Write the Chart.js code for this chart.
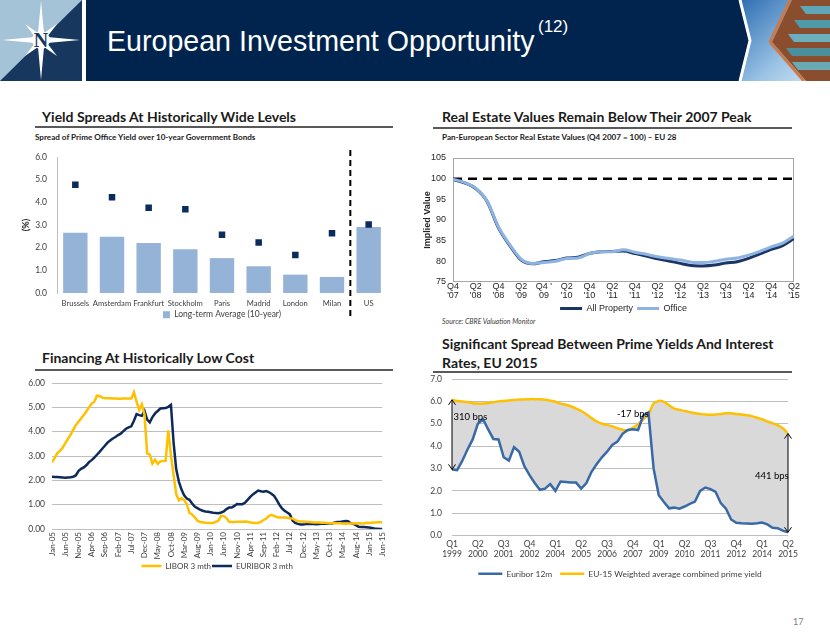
<!DOCTYPE html>
<html><head><meta charset="utf-8">
<script src="https://cdn.jsdelivr.net/npm/chart.js@4.4.0/dist/chart.umd.min.js"></script>
<style>
html,body{margin:0;padding:0;background:#fff;}
body{width:830px;height:632px;position:relative;overflow:hidden;font-family:Lato,'Liberation Sans',sans-serif;}
.abs{position:absolute;}
.h{position:absolute;font-family:Lato,sans-serif;font-weight:bold;font-size:14px;line-height:17px;color:#1a1a1a;white-space:nowrap;}
.rule{position:absolute;height:1.5px;background:#595959;}
.sub{position:absolute;font-family:Lato,sans-serif;font-weight:bold;font-size:8.1px;line-height:10px;color:#1a1a1a;white-space:nowrap;}
.box{position:absolute;}
</style></head><body>

<svg class="abs" style="left:0;top:0" width="830" height="82">
  <defs>
    <linearGradient id="sky" x1="0" y1="0" x2="1" y2="1">
      <stop offset="0" stop-color="#2F6FB3"/>
      <stop offset="0.6" stop-color="#9CC4E6"/>
      <stop offset="1" stop-color="#D9E8F4"/>
    </linearGradient>
    <clipPath id="imgclip"><polygon points="741,0 830,0 830,81 741,81 751,40.5"/></clipPath>
  </defs>
  <rect x="0" y="0" width="82" height="81" fill="#A5C3D6"/>
  <polygon points="82,0 82,81 0,81" fill="#17375E"/>
  <polygon points="41,1 44,33 57,24 47,37 80,40 47,43 57,56 44,47 41,80 38,47 25,56 35,43 2,40 35,37 25,24 38,33" fill="#ffffff"/>
  <circle cx="41" cy="40" r="9" fill="#ffffff"/>
  <text x="41" y="47" text-anchor="middle" font-family="Liberation Serif" font-weight="bold" font-size="20" fill="#17375E">N</text>
  <polygon points="86,0 739,0 749,40.5 739,81 86,81" fill="#00244E"/>
  <g clip-path="url(#imgclip)">
    <rect x="741" y="0" width="89" height="81" fill="url(#sky)"/>
    <polygon points="792,0 830,0 830,81 806,81 772,42" fill="#8A4E2E"/>
    <polygon points="800,6 830,6 830,14 806,14" fill="#5FA7B8"/>
    <polygon points="794,20 830,20 830,28 800,28" fill="#4E9AA8"/>
    <polygon points="788,34 830,34 830,42 794,42" fill="#6DB0BD"/>
    <polygon points="786,48 830,48 830,56 792,56" fill="#4B8F9C"/>
    <polygon points="792,62 830,62 830,70 798,70" fill="#6AAAB4"/>
    <line x1="790" y1="0" x2="770" y2="42" stroke="#C97A4A" stroke-width="3"/>
    <line x1="770" y1="42" x2="804" y2="81" stroke="#C97A4A" stroke-width="3"/>
  </g>
  <polyline points="740,0 750,40.5 740,81" fill="none" stroke="#ffffff" stroke-width="3"/>
</svg>
<div class="abs" style="left:107px;top:27px;font-family:'Liberation Sans',sans-serif;font-size:28.6px;line-height:28px;color:#fff;white-space:nowrap;">European Investment Opportunity</div>
<div class="abs" style="left:538px;top:18px;font-family:'Liberation Sans',sans-serif;font-size:17px;line-height:17px;color:#fff;">(12)</div>

<div class="h" style="left:42px;top:108px;">Yield Spreads At Historically Wide Levels</div>
<div class="rule" style="left:35px;top:126px;width:358px;"></div>
<div class="sub" style="left:35px;top:132px;">Spread of Prime Office Yield over 10-year Government Bonds</div>

<div class="h" style="left:442px;top:108px;">Real Estate Values Remain Below Their 2007 Peak</div>
<div class="rule" style="left:433px;top:127px;width:359px;"></div>
<div class="sub" style="left:442px;top:132px;">Pan-European Sector Real Estate Values (Q4 2007 = 100) – EU 28</div>

<div class="h" style="left:42px;top:349px;">Financing At Historically Low Cost</div>
<div class="rule" style="left:35px;top:369px;width:358px;"></div>

<div class="h" style="left:442px;top:334px;line-height:19px;">Significant Spread Between Prime Yields And Interest<br>Rates, EU 2015</div>
<div class="rule" style="left:433px;top:371px;width:359px;"></div>

<div class="abs" style="left:442px;top:317px;font-family:Lato,sans-serif;font-style:italic;font-size:7px;color:#404040;">Source: CBRE Valuation Monitor</div>
<div class="abs" style="left:793px;top:616px;font-family:Lato,sans-serif;font-size:9px;color:#7f7f7f;">17</div>

<div class="box" style="left:15px;top:145px;width:380px;height:184px;"><canvas id="c1"></canvas></div>
<div class="box" style="left:420px;top:145px;width:385px;height:178px;"><canvas id="c2"></canvas></div>
<div class="box" style="left:15px;top:375px;width:380px;height:205px;"><canvas id="c3"></canvas></div>
<div class="box" style="left:420px;top:372px;width:385px;height:216px;"><canvas id="c4"></canvas></div>

<script>
// ---------- Chart 1: yield spreads ----------
const cities = ['Brussels','Amsterdam','Frankfurt','Stockholm','Paris','Madrid','London','Milan','US'];
const longTermAvgSpread = [2.66,2.48,2.21,1.93,1.54,1.18,0.81,0.71,2.91];
const currentSpread = [4.78,4.22,3.76,3.69,2.57,2.23,1.68,2.64,3.02];

// ---------- Chart 2: real estate values ----------
const valueQuarterTicks = [['Q4',"'07"],['Q2',"'08"],['Q4',"'08"],['Q2',"'09"],["Q4 '",'09'],['Q2',"'10"],['Q4',"'10"],['Q2',"'11"],['Q4',"'11"],['Q2',"'12"],['Q4',"'12"],['Q2',"'13"],['Q4',"'13"],['Q2',"'14"],['Q4',"'14"],['Q2',"'15"]];
const allProperty = [99.8,99.0,97.6,94.5,88.1,83.8,80.3,79.4,79.9,80.2,80.8,81.0,81.9,82.3,82.4,82.5,81.9,81.3,80.6,80.1,79.5,79.0,78.9,79.1,79.6,79.9,80.7,81.8,82.9,83.8,85.5];
const office = [99.9,99.1,97.7,94.6,88.3,84.0,80.5,79.5,79.7,80.0,80.7,80.8,81.9,82.3,82.3,82.8,82.2,81.7,81.1,80.7,80.3,79.8,79.7,80.0,80.5,80.8,81.5,82.4,83.5,84.4,86.1];
const peakLevel = 100;

// ---------- Chart 3: financing cost ----------
const monthTicks = ['Jan-05','Jun-05','Nov-05','Apr-06','Sep-06','Feb-07','Jul-07','Dec-07','May-08','Oct-08','Mar-09','Aug-09','Jan-10','Jun-10','Nov-10','Apr-11','Sep-11','Feb-12','Jul-12','Dec-12','May-13','Oct-13','Mar-14','Aug-14','Jan-15','Jun-15'];
const libor3m = [
  2.74,2.92,3.12,3.21,3.34,3.52,3.70,3.87,4.07,4.27,4.41,4.54,
  4.68,4.83,5.00,5.15,5.23,5.48,5.47,5.40,5.37,5.37,5.37,5.36,
  5.36,5.35,5.35,5.36,5.36,5.36,5.36,5.62,5.23,4.89,5.13,4.70,
  3.11,3.06,2.69,2.85,2.68,2.78,2.79,2.81,4.05,3.03,2.22,1.43,
  1.18,1.26,1.19,1.02,0.66,0.60,0.48,0.35,0.29,0.28,0.26,0.25,
  0.25,0.25,0.29,0.35,0.54,0.53,0.45,0.30,0.29,0.29,0.30,0.30,
  0.30,0.31,0.30,0.27,0.26,0.25,0.25,0.29,0.37,0.42,0.53,0.58,
  0.54,0.49,0.47,0.47,0.47,0.46,0.44,0.43,0.36,0.32,0.31,0.31,
  0.30,0.29,0.28,0.27,0.27,0.27,0.26,0.26,0.25,0.24,0.24,0.25,
  0.24,0.24,0.23,0.22,0.23,0.23,0.24,0.23,0.24,0.23,0.23,0.26,
  0.25,0.26,0.27,0.28,0.28,0.28];
const euribor3m = [
  2.15,2.14,2.14,2.13,2.12,2.11,2.12,2.13,2.15,2.20,2.38,2.47,
  2.53,2.62,2.75,2.83,2.93,3.05,3.17,3.30,3.42,3.55,3.64,3.72,
  3.78,3.86,3.92,4.02,4.12,4.18,4.22,4.45,4.72,4.68,4.65,4.85,
  4.50,4.38,4.60,4.75,4.85,4.95,4.96,4.97,5.02,5.10,3.55,2.45,
  1.95,1.62,1.38,1.25,1.20,1.05,0.92,0.86,0.80,0.75,0.72,0.71,
  0.69,0.67,0.66,0.65,0.68,0.72,0.82,0.88,0.88,0.95,1.03,1.02,
  1.02,1.08,1.20,1.32,1.42,1.50,1.58,1.55,1.53,1.56,1.52,1.45,
  1.36,1.20,1.00,0.85,0.75,0.68,0.60,0.35,0.25,0.21,0.19,0.19,
  0.20,0.22,0.21,0.21,0.20,0.21,0.22,0.22,0.22,0.23,0.23,0.27,
  0.29,0.29,0.31,0.33,0.32,0.24,0.21,0.16,0.09,0.08,0.08,0.07,
  0.06,0.04,0.02,0.01,0.00,0.00];

// ---------- Chart 4: prime yields vs interest rates ----------
const spreadTicks = [['Q1','1999'],['Q2','2000'],['Q3','2001'],['Q4','2002'],['Q1','2004'],['Q2','2005'],['Q3','2006'],['Q4','2007'],['Q1','2009'],['Q2','2010'],['Q3','2011'],['Q4','2012'],['Q1','2014'],['Q2','2015']];
const euribor12m = [2.96,2.93,3.35,3.85,4.30,5.00,5.20,4.75,4.32,4.30,3.50,3.35,3.95,3.75,3.10,2.70,2.35,2.05,2.10,2.30,2.00,2.42,2.40,2.37,2.37,2.10,2.35,2.85,3.20,3.50,3.75,4.05,4.20,4.55,4.72,4.75,4.72,5.37,5.50,3.00,1.80,1.50,1.22,1.25,1.20,1.30,1.42,1.52,2.00,2.15,2.08,1.95,1.45,1.20,0.72,0.57,0.55,0.54,0.53,0.55,0.58,0.50,0.35,0.33,0.22,0.15];
const primeYield = [6.07,6.02,5.99,5.97,5.92,5.90,5.90,5.93,5.96,6.00,6.02,6.04,6.06,6.08,6.08,6.10,6.10,6.09,6.07,6.03,5.98,5.90,5.85,5.78,5.68,5.57,5.42,5.25,5.10,5.00,4.95,4.88,4.80,4.73,4.70,4.82,4.98,5.20,5.42,5.90,6.02,5.98,5.82,5.68,5.62,5.57,5.52,5.47,5.44,5.41,5.40,5.41,5.44,5.47,5.47,5.44,5.41,5.38,5.34,5.27,5.20,5.10,5.02,4.94,4.80,4.56];
const spreadNoteTexts = ['310 bps','-17 bps','441 bps'];
const spreadNoteQuarter = [0.3,31.9,58.6];
const spreadNoteLevel = [5.3,5.45,2.65];

// ---------- helpers ----------
const toXY = arr => arr.map((v,i)=>({x:i,y:v}));
Chart.defaults.animation = false;
Chart.defaults.responsive = true;
Chart.defaults.maintainAspectRatio = false;
Chart.defaults.plugins.tooltip.enabled = false;
Chart.defaults.devicePixelRatio = 1;

// fix the y axis width and drop its automatic top/bottom label padding
const fixY = w => s => { s.width = w; s.paddingTop = 0; s.paddingBottom = 0; };

const dividerPlugin = {
  id:'divider',
  afterDraw(chart){
    const {ctx, chartArea, scales:{x}} = chart;
    const px = (x.getPixelForValue(cities.length-2) + x.getPixelForValue(cities.length-1))/2;
    ctx.save();
    ctx.strokeStyle = '#000'; ctx.lineWidth = 2; ctx.setLineDash([6,4]);
    ctx.beginPath(); ctx.moveTo(px, chartArea.top-7); ctx.lineTo(px, chartArea.bottom+26); ctx.stroke();
    ctx.restore();
  }
};

const framePlugin = {
  id:'frame',
  beforeDatasetsDraw(chart){
    const {ctx, chartArea:a, scales:{y}} = chart;
    ctx.save();
    ctx.strokeStyle = '#A6A6A6'; ctx.lineWidth = 1;
    ctx.strokeRect(a.left+0.5, a.top+0.5, a.width-1, a.height-1);
    const py = y.getPixelForValue(peakLevel);
    ctx.strokeStyle = '#000'; ctx.lineWidth = 2.5; ctx.setLineDash([9,6]);
    ctx.beginPath(); ctx.moveTo(a.left, py); ctx.lineTo(a.right, py); ctx.stroke();
    ctx.restore();
  }
};

function doubleArrow(ctx, x, y1, y2){
  ctx.beginPath(); ctx.moveTo(x, y1); ctx.lineTo(x, y2); ctx.stroke();
  ctx.beginPath();
  ctx.moveTo(x-3.5, y1+5); ctx.lineTo(x, y1); ctx.lineTo(x+3.5, y1+5);
  ctx.moveTo(x-3.5, y2-5); ctx.lineTo(x, y2); ctx.lineTo(x+3.5, y2-5);
  ctx.stroke();
}
const spreadNotesPlugin = {
  id:'spreadNotes',
  afterDatasetsDraw(chart){
    const {ctx, scales:{x,y}} = chart;
    ctx.save();
    ctx.strokeStyle = '#000'; ctx.lineWidth = 1;
    [0, euribor12m.length-1].forEach(i=>{
      doubleArrow(ctx, x.getPixelForValue(i), y.getPixelForValue(primeYield[i]), y.getPixelForValue(euribor12m[i]));
    });
    ctx.fillStyle = '#000'; ctx.font = '9.5px Lato'; ctx.textBaseline = 'middle'; ctx.textAlign = 'left';
    spreadNoteTexts.forEach((t,k)=>{
      ctx.fillText(t, x.getPixelForValue(spreadNoteQuarter[k]), y.getPixelForValue(spreadNoteLevel[k]));
    });
    ctx.restore();
  }
};

// ---------- Chart 1 ----------
new Chart(document.getElementById('c1'), {
  type:'bar',
  data:{
    labels: cities,
    datasets:[
      {type:'bar', label:'Long-term Average (10-year)', data:longTermAvgSpread, backgroundColor:'#95B3D7', categoryPercentage:1, barPercentage:0.665, order:2},
      {type:'line', label:'Current spread', data:currentSpread, showLine:false, pointStyle:'rect', pointRadius:4.6, pointBackgroundColor:'#0B2B5E', pointBorderColor:'#0B2B5E', pointBorderWidth:0, order:1}
    ]
  },
  options:{
    layout:{padding:{top:12,right:8,left:0,bottom:0}},
    plugins:{legend:{position:'bottom', fullSize:false, labels:{filter:it=>it.datasetIndex===0, boxWidth:7, boxHeight:7, padding:1.5, font:{family:'Lato', size:8.5}, color:'#404040'}}},
    scales:{
      x:{grid:{display:false, drawTicks:false}, border:{display:false}, ticks:{font:{family:'Lato', size:7.6}, color:'#404040', padding:6, maxRotation:0, autoSkip:false}, afterFit:s=>{s.height=16;}},
      y:{min:0, max:6, ticks:{stepSize:1, callback:v=>v.toFixed(1), font:{family:'Lato', size:8.5}, color:'#404040', padding:10},
         grid:{display:false, drawTicks:false}, border:{display:true, color:'#BFBFBF'},
         title:{display:true, text:'(%)', font:{family:'Lato', size:9, weight:'bold'}, color:'#262626', padding:{top:6,bottom:0}},
         afterFit:fixY(42)}
    }
  },
  plugins:[dividerPlugin]
});

// ---------- Chart 2 ----------
new Chart(document.getElementById('c2'), {
  type:'line',
  data:{datasets:[
    {label:'All Property', data:toXY(allProperty), borderColor:'#1B3565', backgroundColor:'#1B3565', borderWidth:3, pointRadius:0, cubicInterpolationMode:'monotone', order:1},
    {label:'Office', data:toXY(office), borderColor:'#8DB3E2', backgroundColor:'#8DB3E2', borderWidth:3, pointRadius:0, cubicInterpolationMode:'monotone', order:0}
  ]},
  options:{
    layout:{padding:{top:13,right:11,left:0,bottom:0}},
    plugins:{legend:{position:'bottom', fullSize:false, labels:{usePointStyle:true, pointStyle:'line', pointStyleWidth:22, boxHeight:9, padding:4, font:{family:'Liberation Sans', size:9}, color:'#262626', sort:(a,b)=>a.datasetIndex-b.datasetIndex}}},
    scales:{
      x:{type:'linear', min:0, max:allProperty.length-1,
         ticks:{stepSize:2, autoSkip:false, maxRotation:0, minRotation:0, callback:v=>valueQuarterTicks[v/2], font:{family:'Liberation Sans', size:9, lineHeight:1}, color:'#262626', padding:0},
         grid:{display:false, drawTicks:false}, border:{display:false}, afterFit:s=>{s.height=18;}},
      y:{min:75, max:105, ticks:{stepSize:5, font:{family:'Liberation Sans', size:9}, color:'#262626', padding:7},
         grid:{display:false, drawTicks:false}, border:{display:false},
         title:{display:true, text:'Implied Value', font:{family:'Liberation Sans', size:9, weight:'bold'}, color:'#262626', padding:{top:2,bottom:0}},
         afterFit:fixY(33)}
    }
  },
  plugins:[framePlugin]
});

// ---------- Chart 3 ----------
new Chart(document.getElementById('c3'), {
  type:'line',
  data:{datasets:[
    {label:'LIBOR 3 mth', data:toXY(libor3m), borderColor:'#FFC000', backgroundColor:'#FFC000', borderWidth:2.5, pointRadius:0, tension:0},
    {label:'EURIBOR 3 mth', data:toXY(euribor3m), borderColor:'#0D2A5C', backgroundColor:'#0D2A5C', borderWidth:2.5, pointRadius:0, tension:0}
  ]},
  options:{
    layout:{padding:{top:8,right:8,left:0,bottom:0}},
    plugins:{legend:{position:'bottom', fullSize:false, labels:{usePointStyle:true, pointStyle:'line', pointStyleWidth:20, boxHeight:8, padding:1, font:{family:'Lato', size:8}, color:'#404040'}}},
    scales:{
      x:{type:'linear', min:0, max:libor3m.length-1,
         ticks:{stepSize:5, autoSkip:false, minRotation:90, maxRotation:90, callback:v=>monthTicks[v/5], font:{family:'Lato', size:8}, color:'#404040', padding:3},
         grid:{display:false, drawTicks:false}, border:{display:false}, afterFit:s=>{s.height=32;}},
      y:{min:0, max:6, ticks:{stepSize:1, callback:v=>v.toFixed(2), font:{family:'Lato', size:8.5}, color:'#404040', padding:7},
         grid:{color:'#BFBFBF', drawTicks:false}, border:{display:false},
         afterFit:fixY(37)}
    }
  }
});

// ---------- Chart 4 ----------
new Chart(document.getElementById('c4'), {
  type:'line',
  data:{datasets:[
    {label:'Euribor 12m', data:toXY(euribor12m), borderColor:'#3A69A8', backgroundColor:'#3A69A8', borderWidth:2.5, pointRadius:0, tension:0, fill:false},
    {label:'EU-15 Weighted average combined prime yield', data:toXY(primeYield), borderColor:'#FFC000', backgroundColor:'#D9D9D9', borderWidth:2.5, pointRadius:0, tension:0.3,
     fill:{target:0, above:'#D9D9D9', below:'#D9D9D9'}}
  ]},
  options:{
    layout:{padding:{top:7,right:17,left:0,bottom:0}},
    plugins:{legend:{position:'bottom', fullSize:false, labels:{usePointStyle:true, pointStyle:'line', pointStyleWidth:24, boxHeight:9, padding:8, font:{family:'Lato', size:8.4}, color:'#404040'}}},
    scales:{
      x:{type:'linear', min:0, max:euribor12m.length-1,
         ticks:{stepSize:5, autoSkip:false, maxRotation:0, minRotation:0, callback:v=>spreadTicks[v/5], font:{family:'Lato', size:8.5, lineHeight:1.15}, color:'#404040', padding:4},
         grid:{display:false, drawTicks:false}, border:{display:false}, afterFit:s=>{s.height=26;}},
      y:{min:0, max:7, ticks:{stepSize:1, callback:v=>v.toFixed(1), font:{family:'Lato', size:8.5}, color:'#404040', padding:10},
         grid:{color:'#BFBFBF', drawTicks:false}, border:{display:false},
         afterFit:fixY(32)}
    }
  },
  plugins:[spreadNotesPlugin]
});
</script>
</body></html>
